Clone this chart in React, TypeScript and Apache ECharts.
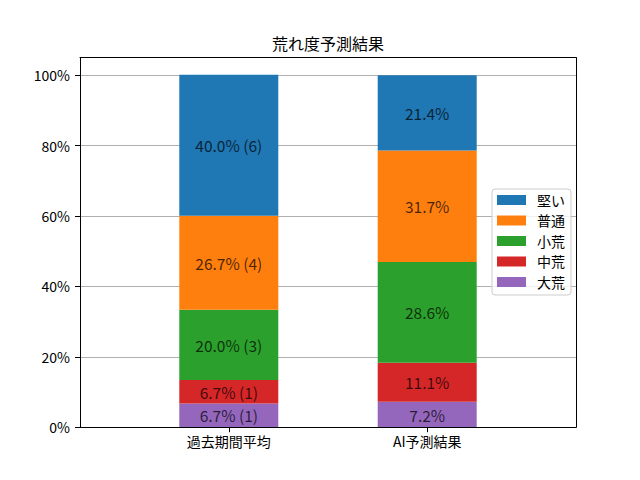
import React, { useEffect, useRef } from "react";
import * as echarts from "echarts";

const categories = ["過去期間平均", "AI予測結果"];
const seriesNames = ["大荒", "中荒", "小荒", "普通", "堅い"];
const legendOrder = ["堅い", "普通", "小荒", "中荒", "大荒"];
const pastValues = [6.7, 6.7, 20.0, 26.7, 40.0];
const pastCounts = [1, 1, 3, 4, 6];
const aiValues = [7.2, 11.1, 28.6, 31.7, 21.4];
const colors = ["#9467bd", "#d62728", "#2ca02c", "#ff7f0e", "#1f77b4"];
const yTicks = [0, 20, 40, 60, 80, 100];
const title = "荒れ度予測結果";

const FONT = "'Noto Sans CJK JP', 'DejaVu Sans', sans-serif";

// x axis slots: empty margins around and between the two bars
const slots = ["", categories[0], " ", categories[1], "  "];

export default function App() {
  const ref = useRef<HTMLDivElement>(null);
  useEffect(() => {
    if (!ref.current) return;
    const chart = echarts.init(ref.current, null, { renderer: "svg" });
    const series = seriesNames.map((name, i) => ({
      name,
      type: "bar",
      stack: "total",
      barWidth: 99,
      xAxisIndex: 0,
      yAxisIndex: 0,
      itemStyle: { color: colors[i] },
      label: {
        show: true,
        position: "inside",
        fontFamily: FONT,
        fontSize: 15.5,
        color: "rgba(0,0,0,0.72)",
        formatter: (p: any) =>
          p.dataIndex === 1
            ? `${pastValues[i].toFixed(1)}% (${pastCounts[i]})`
            : `${aiValues[i].toFixed(1)}%`,
      },
      data: ["-", pastValues[i], "-", aiValues[i], "-"],
    }));
    const showSlot = (idx: number) => idx === 1 || idx === 3;
    chart.setOption({
      animation: false,
      backgroundColor: "#ffffff",
      textStyle: { fontFamily: FONT },
      title: {
        text: title,
        left: 328,
        top: 35,
        padding: 0,
        textAlign: "center",
        textStyle: { fontFamily: FONT, fontSize: 16, fontWeight: "normal", color: "#000" },
      },
      legend: {
        data: legendOrder,
        orient: "vertical",
        left: 492,
        top: 189,
        padding: [4, 6, 6, 5],
        itemWidth: 29,
        itemHeight: 10,
        itemGap: 6.5,
        icon: "rect",
        backgroundColor: "rgba(255,255,255,0.8)",
        borderColor: "#cccccc",
        borderWidth: 1,
        borderRadius: 3,
        textStyle: { fontFamily: FONT, fontSize: 14, color: "#000", padding: [0, 0, 0, 6] },
      },
      grid: { left: 80, right: 64, top: 57.6, bottom: 52.8 },
      xAxis: [
        {
          type: "category",
          data: slots,
          position: "bottom",
          z: 5,
          splitLine: { show: false },
          axisLine: { show: true, lineStyle: { color: "#000", width: 1 } },
          axisTick: {
            show: true,
            alignWithLabel: true,
            interval: (idx: number) => showSlot(idx),
            length: 5,
            lineStyle: { color: "#000" },
          },
          axisLabel: {
            interval: 0,
            margin: 7,
            fontFamily: FONT,
            fontSize: 14,
            color: "#000",
          },
        },
        {
          type: "category",
          data: slots,
          position: "top",
          z: 5,
          splitLine: { show: false },
          axisLine: { show: true, onZero: false, lineStyle: { color: "#000", width: 1 } },
          axisTick: { show: false },
          axisLabel: { show: false },
        },
      ],
      yAxis: [
        {
          type: "value",
          min: 0,
          max: 105,
          interval: 20,
          axisLine: { show: true, onZero: false, lineStyle: { color: "#000", width: 1 } },
          axisTick: { show: true, customValues: yTicks, length: 5, lineStyle: { color: "#000" } },
          axisLabel: {
            customValues: yTicks,
            margin: 10,
            fontFamily: FONT,
            fontSize: 14,
            color: "#000",
            formatter: (v: number) => `${v}%`,
          },
          splitLine: { show: true, lineStyle: { color: "#b0b0b0", width: 1 } },
        },
        {
          type: "value",
          min: 0,
          max: 105,
          position: "right",
          z: 5,
          axisLine: { show: true, onZero: false, lineStyle: { color: "#000", width: 1 } },
          axisTick: { show: false },
          axisLabel: { show: false },
          splitLine: { show: false },
        },
      ],
      series,
    });
    return () => chart.dispose();
  }, []);
  return (
    <div
      ref={ref}
      style={{ position: "fixed", left: 0, top: 0, width: 640, height: 480, background: "#fff" }}
    />
  );
}
